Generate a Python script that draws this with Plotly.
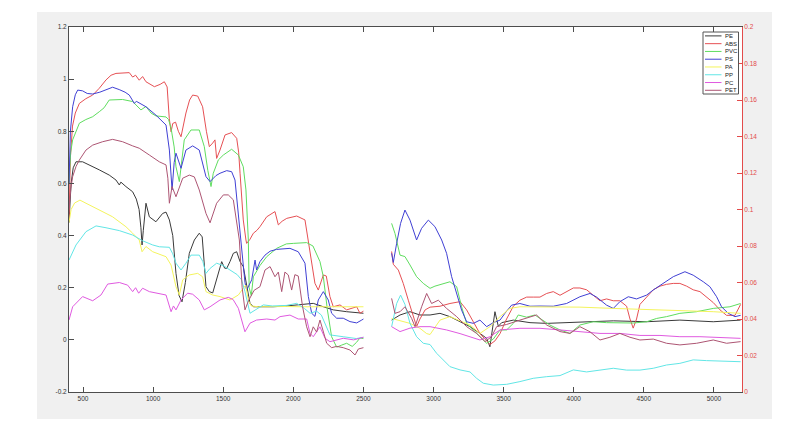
import plotly.graph_objects as go

# ---------------- data ----------------
names = ["PE", "ABS", "PVC", "PS", "PA", "PP", "PC", "PET"]
colors = ["#3a3a3a", "#e65054", "#5fdd5f", "#4040d4", "#f4f45c", "#62e6e6", "#e05ae0", "#ad5573"]

x_tickvals = [500, 1000, 1500, 2000, 2500, 3000, 3500, 4000, 4500, 5000]
x_ticktext = ["500", "1000", "1500", "2000", "2500", "3000", "3500", "4000", "4500", "5000"]
y_tickvals = [-0.2, 0, 0.2, 0.4, 0.6, 0.8, 1.0, 1.2]
y_ticktext = ["-0.2", "0", "0.2", "0.4", "0.6", "0.8", "1", "1.2"]
y2_tickvals = [0, 0.02, 0.04, 0.06, 0.08, 0.1, 0.12, 0.14, 0.16, 0.18, 0.2]
y2_ticktext = ["0", "0.02", "0.04", "0.06", "0.08", "0.1", "0.12", "0.14", "0.16", "0.18", "0.2"]

# left part (400-2500 cm-1), left axis
PE_left = [(400, 0.45), (415, 0.6), (430, 0.66), (450, 0.683), (497, 0.683), (545, 0.671), (616, 0.652),
           (687, 0.632), (735, 0.613), (759, 0.594), (770, 0.605), (806, 0.588), (854, 0.568), (880, 0.54),
           (900, 0.50), (913, 0.43), (921, 0.364), (930, 0.42), (949, 0.524), (973, 0.472), (1020, 0.453),
           (1068, 0.485), (1092, 0.49), (1116, 0.46), (1140, 0.40), (1163, 0.255), (1185, 0.17), (1206, 0.146),
           (1230, 0.22), (1258, 0.332), (1294, 0.383), (1329, 0.409), (1350, 0.395), (1377, 0.204),
           (1401, 0.185), (1425, 0.18), (1453, 0.23), (1477, 0.281), (1489, 0.30), (1510, 0.275),
           (1525, 0.274), (1548, 0.30), (1572, 0.332), (1596, 0.338), (1620, 0.30), (1643, 0.281),
           (1667, 0.204), (1691, 0.14), (1715, 0.127), (1738, 0.127), (1800, 0.128), (1857, 0.127),
           (1950, 0.13), (2047, 0.134), (2142, 0.14), (2214, 0.127), (2285, 0.115), (2380, 0.108),
           (2475, 0.105), (2500, 0.102)]
ABS_left = [(400, 0.46), (410, 0.70), (425, 0.82), (445, 0.87), (474, 0.907), (520, 0.925), (569, 0.939),
            (616, 0.965), (664, 0.997), (700, 1.015), (735, 1.022), (790, 1.025), (830, 1.025), (854, 1.008),
            (875, 1.015), (901, 0.996), (925, 1.01), (949, 0.99), (1009, 0.971), (1050, 0.98), (1080, 0.99),
            (1100, 0.97), (1115, 0.85), (1128, 0.798), (1140, 0.83), (1160, 0.835), (1180, 0.80),
            (1199, 0.779), (1234, 0.87), (1260, 0.92), (1282, 0.939), (1318, 0.935), (1353, 0.894),
            (1380, 0.80), (1401, 0.741), (1425, 0.755), (1441, 0.767), (1453, 0.696), (1477, 0.728),
            (1513, 0.786), (1560, 0.795), (1596, 0.773), (1610, 0.72), (1620, 0.639), (1643, 0.46),
            (1662, 0.383), (1667, 0.370), (1690, 0.385), (1715, 0.409), (1740, 0.42), (1762, 0.434),
            (1810, 0.472), (1869, 0.492), (1893, 0.441), (1920, 0.455), (1953, 0.466), (2024, 0.475),
            (2083, 0.46), (2119, 0.345), (2154, 0.217), (2178, 0.191), (2214, 0.249), (2235, 0.245),
            (2261, 0.166), (2285, 0.127), (2333, 0.134), (2380, 0.115), (2452, 0.127), (2475, 0.102),
            (2500, 0.11)]
PVC_left = [(400, 0.60), (412, 0.72), (426, 0.767), (450, 0.80), (474, 0.831), (520, 0.845), (569, 0.856),
            (616, 0.875), (650, 0.89), (687, 0.92), (730, 0.922), (782, 0.922), (854, 0.914), (878, 0.901),
            (895, 0.89), (913, 0.882), (949, 0.895), (985, 0.87), (1020, 0.859), (1092, 0.855), (1110, 0.845),
            (1128, 0.812), (1150, 0.74), (1163, 0.664), (1187, 0.607), (1205, 0.70), (1222, 0.767),
            (1270, 0.805), (1329, 0.805), (1365, 0.741), (1390, 0.65), (1413, 0.588), (1429, 0.639),
            (1465, 0.69), (1501, 0.709), (1560, 0.731), (1608, 0.709), (1643, 0.664), (1662, 0.575),
            (1679, 0.383), (1685, 0.2), (1700, 0.17), (1715, 0.242), (1762, 0.285), (1810, 0.319),
            (1881, 0.351), (1950, 0.368), (2000, 0.37), (2095, 0.373), (2140, 0.36), (2166, 0.332),
            (2190, 0.30), (2214, 0.242), (2243, 0.115), (2273, 0.012), (2309, -0.028), (2345, -0.02),
            (2380, -0.013), (2420, -0.025), (2450, -0.01), (2475, 0.007), (2500, 0.005)]
PS_left = [(400, 0.60), (410, 0.80), (426, 0.894), (445, 0.94), (462, 0.958), (497, 0.955), (530, 0.945),
           (569, 0.943), (620, 0.95), (670, 0.96), (711, 0.969), (758, 0.96), (800, 0.95), (830, 0.939),
           (866, 0.907), (880, 0.915), (949, 0.894), (1020, 0.862), (1092, 0.824), (1116, 0.728),
           (1135, 0.575), (1150, 0.68), (1163, 0.716), (1199, 0.658), (1234, 0.728), (1282, 0.744),
           (1329, 0.728), (1377, 0.626), (1406, 0.607), (1448, 0.63), (1477, 0.639), (1525, 0.649),
           (1560, 0.645), (1584, 0.613), (1608, 0.485), (1624, 0.40), (1640, 0.30), (1655, 0.22),
           (1667, 0.191), (1703, 0.23), (1727, 0.306), (1738, 0.268), (1762, 0.30), (1798, 0.325),
           (1834, 0.34), (1881, 0.347), (1976, 0.351), (2035, 0.338), (2083, 0.294), (2107, 0.166),
           (2131, 0.102), (2154, 0.09), (2178, 0.153), (2214, 0.185), (2249, 0.153), (2273, 0.102),
           (2309, 0.083), (2356, 0.083), (2404, 0.07), (2452, 0.065), (2488, 0.076), (2500, 0.08)]
PA_left = [(400, 0.45), (415, 0.5), (440, 0.525), (478, 0.536), (521, 0.524), (569, 0.51), (616, 0.498),
           (664, 0.485), (711, 0.472), (759, 0.452), (806, 0.434), (854, 0.409), (878, 0.396), (901, 0.383),
           (921, 0.338), (949, 0.358), (997, 0.338), (1056, 0.325), (1092, 0.319), (1128, 0.287),
           (1163, 0.204), (1187, 0.172), (1211, 0.23), (1258, 0.249), (1318, 0.255), (1353, 0.242),
           (1377, 0.185), (1425, 0.172), (1477, 0.166), (1548, 0.153), (1608, 0.172), (1643, 0.198),
           (1660, 0.21), (1680, 0.15), (1700, 0.13), (1750, 0.127), (1850, 0.128), (1950, 0.128),
           (2050, 0.127), (2150, 0.127), (2250, 0.126), (2350, 0.125), (2450, 0.125), (2500, 0.127)]
PP_left = [(400, 0.306), (426, 0.34), (450, 0.364), (521, 0.415), (593, 0.437), (664, 0.43), (759, 0.419),
           (854, 0.402), (925, 0.38), (997, 0.364), (1044, 0.357), (1116, 0.355), (1140, 0.33),
           (1163, 0.294), (1199, 0.268), (1234, 0.294), (1270, 0.325), (1329, 0.325), (1355, 0.3),
           (1377, 0.255), (1406, 0.274), (1453, 0.294), (1500, 0.285), (1548, 0.268), (1600, 0.25),
           (1631, 0.23), (1655, 0.185), (1691, 0.102), (1715, 0.11), (1786, 0.134), (1850, 0.13),
           (1950, 0.132), (2024, 0.14), (2080, 0.12), (2119, 0.102), (2166, 0.11), (2200, 0.095),
           (2226, 0.064), (2261, 0.019), (2356, 0.012), (2450, 0.005), (2500, 0.01)]
PC_left = [(400, 0.076), (426, 0.127), (497, 0.166), (569, 0.15), (628, 0.172), (676, 0.214), (759, 0.22),
           (818, 0.21), (854, 0.185), (875, 0.2), (897, 0.179), (925, 0.198), (973, 0.185), (1020, 0.179),
           (1092, 0.172), (1128, 0.108), (1145, 0.13), (1163, 0.115), (1199, 0.153), (1246, 0.179),
           (1282, 0.175), (1329, 0.153), (1365, 0.115), (1406, 0.127), (1477, 0.153), (1536, 0.163),
           (1570, 0.155), (1608, 0.121), (1655, 0.031), (1691, 0.064), (1738, 0.076), (1810, 0.08),
           (1869, 0.076), (1905, 0.089), (1976, 0.095), (2035, 0.08), (2095, 0.08), (2119, 0.025),
           (2142, 0.012), (2190, 0.05), (2226, 0.006), (2261, -0.007), (2309, 0.0), (2356, 0.006),
           (2430, 0.0), (2475, 0.008), (2500, 0.01)]
PET_left = [(400, 0.50), (413, 0.58), (426, 0.626), (450, 0.665), (474, 0.69), (521, 0.728), (569, 0.747),
            (640, 0.76), (711, 0.769), (782, 0.76), (854, 0.744), (901, 0.735), (973, 0.709), (1044, 0.683),
            (1092, 0.671), (1105, 0.62), (1116, 0.524), (1135, 0.588), (1163, 0.549), (1211, 0.62),
            (1258, 0.632), (1294, 0.625), (1329, 0.575), (1377, 0.485), (1406, 0.449), (1425, 0.48),
            (1453, 0.524), (1501, 0.556), (1536, 0.556), (1572, 0.537), (1596, 0.46), (1615, 0.383),
            (1635, 0.2), (1655, 0.115), (1680, 0.15), (1720, 0.19), (1762, 0.204), (1798, 0.268),
            (1834, 0.281), (1869, 0.242), (1893, 0.26), (1917, 0.185), (1940, 0.26), (1964, 0.249),
            (1988, 0.191), (2011, 0.25), (2035, 0.245), (2066, 0.127), (2095, 0.05), (2119, 0.012),
            (2142, 0.05), (2166, 0.03), (2190, 0.076), (2214, 0.03), (2238, -0.013), (2273, -0.03),
            (2309, -0.025), (2356, -0.03), (2404, -0.039), (2440, -0.058), (2464, -0.035), (2500, -0.03)]

# right part (2700-5200 cm-1), right axis
PE_right = [(2701, 0.0394), (2761, 0.0422), (2832, 0.044), (2903, 0.0422), (2975, 0.0422), (3046, 0.0431),
            (3117, 0.0413), (3189, 0.0385), (3260, 0.0358), (3331, 0.0321), (3379, 0.0294), (3402, 0.0248),
            (3426, 0.036), (3438, 0.044), (3462, 0.036), (3486, 0.038), (3569, 0.0394), (3688, 0.038),
            (3807, 0.0376), (4044, 0.0385), (4282, 0.039), (4520, 0.0385), (4757, 0.0394), (4995, 0.0385),
            (5190, 0.0394)]
ABS_right = [(2701, 0.077), (2713, 0.070), (2749, 0.0668), (2784, 0.0595), (2820, 0.0503), (2856, 0.0413),
             (2879, 0.0358), (2903, 0.040), (2940, 0.045), (2975, 0.0465), (3046, 0.047), (3117, 0.0485),
             (3189, 0.0495), (3236, 0.045), (3284, 0.038), (3331, 0.032), (3379, 0.028), (3402, 0.026),
             (3438, 0.028), (3474, 0.032), (3521, 0.040), (3569, 0.047), (3616, 0.0503), (3664, 0.052),
             (3711, 0.052), (3759, 0.052), (3807, 0.054), (3854, 0.055), (3902, 0.053), (3949, 0.055),
             (3997, 0.057), (4044, 0.057), (4092, 0.056), (4139, 0.053), (4187, 0.050), (4234, 0.051),
             (4282, 0.050), (4329, 0.050), (4377, 0.047), (4401, 0.040), (4424, 0.035), (4448, 0.040),
             (4472, 0.048), (4520, 0.052), (4567, 0.056), (4615, 0.058), (4662, 0.059), (4710, 0.0595),
             (4757, 0.0595), (4805, 0.058), (4852, 0.056), (4900, 0.055), (4947, 0.052), (4995, 0.049),
             (5043, 0.045), (5090, 0.042), (5150, 0.042), (5190, 0.048)]
PVC_right = [(2701, 0.0924), (2725, 0.0869), (2761, 0.075), (2796, 0.0742), (2832, 0.0696), (2879, 0.0632),
             (2927, 0.0595), (2975, 0.0568), (3010, 0.058), (3070, 0.0595), (3117, 0.0604), (3165, 0.0577),
             (3200, 0.0467), (3236, 0.0376), (3284, 0.034), (3331, 0.0303), (3379, 0.0267), (3426, 0.029),
             (3474, 0.034), (3521, 0.034), (3569, 0.0376), (3604, 0.0422), (3664, 0.041), (3723, 0.0422),
             (3783, 0.039), (3830, 0.0367), (3902, 0.034), (3973, 0.0321), (4044, 0.0367), (4139, 0.0385),
             (4234, 0.038), (4329, 0.038), (4424, 0.0378), (4520, 0.0385), (4591, 0.0403), (4662, 0.0413),
             (4757, 0.0431), (4876, 0.044), (4995, 0.0458), (5114, 0.0467), (5190, 0.0485)]
PS_right = [(2701, 0.076), (2713, 0.071), (2737, 0.0815), (2765, 0.0924), (2796, 0.0997), (2832, 0.0942),
            (2879, 0.0833), (2915, 0.0897), (2963, 0.0942), (3010, 0.0906), (3058, 0.0833), (3093, 0.076),
            (3129, 0.0632), (3165, 0.054), (3200, 0.0449), (3236, 0.0385), (3284, 0.0376), (3331, 0.0394),
            (3379, 0.0358), (3426, 0.038), (3474, 0.0394), (3509, 0.0431), (3557, 0.0476), (3616, 0.0485),
            (3688, 0.047), (3759, 0.0471), (3854, 0.047), (3949, 0.0485), (3997, 0.0503), (4044, 0.0522),
            (4116, 0.054), (4163, 0.052), (4234, 0.0476), (4282, 0.0458), (4329, 0.0495), (4389, 0.0522),
            (4448, 0.051), (4520, 0.0531), (4567, 0.0559), (4638, 0.0595), (4710, 0.0632), (4793, 0.0659),
            (4852, 0.064), (4924, 0.0604), (4971, 0.0577), (5019, 0.0522), (5054, 0.0467), (5102, 0.0431),
            (5150, 0.0413), (5190, 0.042)]
PA_right = [(2701, 0.0403), (2761, 0.039), (2832, 0.0376), (2903, 0.0349), (2951, 0.032), (2975, 0.0315),
            (3046, 0.0394), (3117, 0.0413), (3189, 0.039), (3260, 0.0367), (3331, 0.0321), (3402, 0.0358),
            (3474, 0.0413), (3545, 0.0458), (3616, 0.0467), (3759, 0.0467), (4044, 0.0465), (4282, 0.0458),
            (4520, 0.0453), (4757, 0.0445), (4995, 0.044), (5190, 0.0431)]
PP_right = [(2701, 0.0358), (2737, 0.0485), (2765, 0.0531), (2796, 0.048), (2832, 0.0376), (2879, 0.0303),
            (2927, 0.0267), (2975, 0.026), (3022, 0.0212), (3070, 0.0176), (3117, 0.0139), (3189, 0.0121),
            (3260, 0.011), (3307, 0.0075), (3355, 0.0048), (3426, 0.0038), (3521, 0.0042), (3616, 0.0057),
            (3711, 0.0075), (3807, 0.0084), (3902, 0.009), (3997, 0.0121), (4092, 0.011), (4187, 0.012),
            (4282, 0.013), (4377, 0.012), (4472, 0.012), (4567, 0.013), (4662, 0.0148), (4757, 0.0157),
            (4852, 0.0176), (4947, 0.0172), (5043, 0.017), (5190, 0.0166)]
PC_right = [(2701, 0.0358), (2761, 0.0331), (2832, 0.035), (2903, 0.0358), (2975, 0.0358), (3093, 0.034),
            (3189, 0.032), (3260, 0.0303), (3331, 0.0285), (3402, 0.0303), (3474, 0.034), (3616, 0.0349),
            (3759, 0.0349), (3902, 0.034), (4044, 0.0331), (4187, 0.0321), (4329, 0.0321), (4472, 0.031),
            (4615, 0.031), (4757, 0.0303), (4900, 0.0303), (5043, 0.030), (5190, 0.0294)]
PET_right = [(2701, 0.0513), (2725, 0.0431), (2761, 0.044), (2796, 0.0467), (2844, 0.0403), (2868, 0.0358),
             (2915, 0.0467), (2951, 0.054), (2986, 0.0485), (3034, 0.0503), (3093, 0.0458), (3165, 0.0413),
             (3236, 0.0358), (3307, 0.0321), (3367, 0.0276), (3414, 0.0303), (3450, 0.0358), (3521, 0.037),
             (3616, 0.0394), (3735, 0.0422), (3807, 0.0367), (3902, 0.0331), (3973, 0.0321), (4044, 0.0358),
             (4116, 0.033), (4187, 0.0285), (4258, 0.03), (4329, 0.0321), (4401, 0.030), (4472, 0.0285),
             (4567, 0.029), (4662, 0.0267), (4757, 0.0258), (4876, 0.0267), (4995, 0.0285), (5090, 0.0267),
             (5190, 0.0276)]

left_parts = [PE_left, ABS_left, PVC_left, PS_left, PA_left, PP_left, PC_left, PET_left]
right_parts = [PE_right, ABS_right, PVC_right, PS_right, PA_right, PP_right, PC_right, PET_right]

# ---------------- figure ----------------
fig = go.Figure()
for name, color, lp, rp in zip(names, colors, left_parts, right_parts):
    fig.add_trace(go.Scatter(x=[p[0] for p in lp], y=[p[1] for p in lp], mode="lines", name=name,
                             legendgroup=name, showlegend=False, line=dict(color=color, width=1), yaxis="y"))
    fig.add_trace(go.Scatter(x=[p[0] for p in rp], y=[p[1] for p in rp], mode="lines", name=name,
                             legendgroup=name, showlegend=False, line=dict(color=color, width=1), yaxis="y2"))

axis_col = "#4d4d4d"
red = "#e34b4b"
FONT = "Liberation Sans, Arial, sans-serif"
tick_font = dict(family=FONT, size=6.5, color="#333333")

# the html page body adds an 8px offset, so the figure is 8px smaller and shifted
OFF = 8
W, H = 800 - OFF, 427 - OFF
L, R, T, B = 69 - OFF, 58, 27 - OFF, 35
pw, ph = W - L - R, H - T - B


def px2paper_x(px):
    return (px - OFF - L) / pw


def px2paper_y(py):
    return (H - B - (py - OFF)) / ph


shapes = [
    dict(type="rect", xref="paper", yref="paper", layer="below",
         x0=px2paper_x(37), x1=px2paper_x(772), y0=px2paper_y(419), y1=px2paper_y(12),
         fillcolor="#f0f0f0", line=dict(width=0)),
    dict(type="rect", xref="paper", yref="paper", layer="below",
         x0=0, x1=1, y0=0, y1=1, fillcolor="white", line=dict(width=0)),
    dict(type="rect", xref="paper", yref="paper", layer="above",
         x0=px2paper_x(703), x1=px2paper_x(738.5), y0=px2paper_y(94), y1=px2paper_y(32),
         fillcolor="white", line=dict(color="#555555", width=1)),
]
annotations = []
for i, (name, color) in enumerate(zip(names, colors)):
    py = 35.9 + i * 7.77
    shapes.append(dict(type="line", xref="paper", yref="paper", layer="above",
                       x0=px2paper_x(705), x1=px2paper_x(721.5), y0=px2paper_y(py), y1=px2paper_y(py),
                       line=dict(color=color, width=1)))
    annotations.append(dict(xref="paper", yref="paper", x=px2paper_x(722.5), y=px2paper_y(py),
                            text=name, showarrow=False, xanchor="left", yanchor="middle",
                            font=dict(family=FONT, size=6, color="#222222")))

fig.update_layout(
    width=W, height=H, autosize=False,
    margin=dict(l=L, r=R, t=T, b=B, pad=0),
    paper_bgcolor="white", plot_bgcolor="white",
    showlegend=False,
    shapes=shapes, annotations=annotations,
    xaxis=dict(range=[400, 5200], tickvals=x_tickvals, ticktext=x_ticktext, ticks="inside", ticklen=5,
               tickcolor=axis_col, showline=True, linecolor=axis_col, linewidth=1, mirror="ticks",
               showgrid=False, zeroline=False, tickfont=tick_font),
    yaxis=dict(range=[-0.2, 1.2], tickvals=y_tickvals, ticktext=y_ticktext, ticks="inside", ticklen=5,
               tickcolor=axis_col, showline=True, linecolor=axis_col, linewidth=1, mirror=False,
               showgrid=False, zeroline=False, tickfont=tick_font),
    yaxis2=dict(range=[0, 0.2], tickvals=y2_tickvals, ticktext=y2_ticktext, overlaying="y", side="right",
                ticks="inside", ticklen=5, tickcolor=red, showline=True, linecolor=red, linewidth=1,
                showgrid=False, zeroline=False, tickfont=dict(family=FONT, size=6.5, color=red)),
)

fig.write_html("out.html")
